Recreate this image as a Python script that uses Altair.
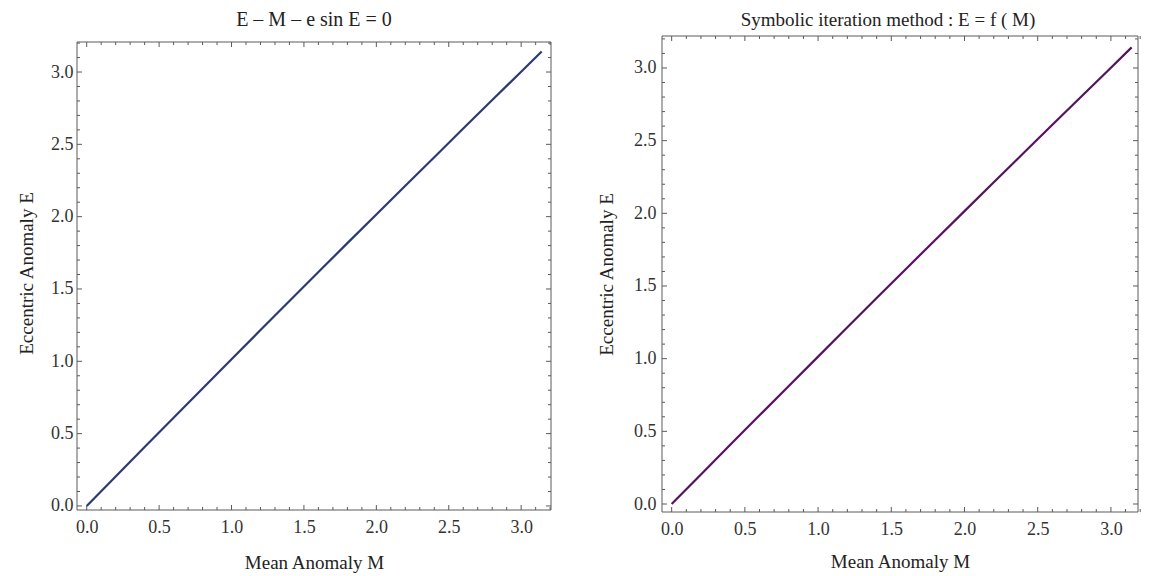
import altair as alt
import pandas as pd

# ---- data ----
M_vals = [0.0, 0.2, 0.4, 0.6, 0.8, 1.0, 1.2, 1.4, 1.6, 1.8, 2.0, 2.2, 2.4, 2.6, 2.8, 3.0, 3.1416]
E_left = [0.0, 0.203, 0.407, 0.610, 0.812, 1.014, 1.216, 1.417, 1.617, 1.817, 2.015, 2.214, 2.411, 2.609, 2.806, 3.002, 3.1416]
E_right = [0.0, 0.203, 0.407, 0.610, 0.812, 1.014, 1.216, 1.417, 1.617, 1.817, 2.015, 2.214, 2.411, 2.609, 2.806, 3.002, 3.1416]

major_ticks = [0.0, 0.5, 1.0, 1.5, 2.0, 2.5, 3.0]
minor_ticks = [0.1, 0.2, 0.3, 0.4, 0.6, 0.7, 0.8, 0.9, 1.1, 1.2, 1.3, 1.4,
               1.6, 1.7, 1.8, 1.9, 2.1, 2.2, 2.3, 2.4, 2.6, 2.7, 2.8, 2.9, 3.1, 3.2]

titles = ["E \u2013 M \u2013 e sin E = 0", "Symbolic iteration method : E = f ( M)"]
x_title = "Mean Anomaly M"
y_title = "Eccentric Anomaly E"

FONT = "Liberation Serif"
FRAME = "#5a5a5a"


def panel(E, color, title, xdom, ydom, w, h, gap, ylabpad, ytitlepad, xtitlepad, tdx, tsize):
    df = pd.DataFrame({"M": M_vals, "E": E})
    xs = alt.Scale(domain=xdom, nice=False, zero=False)
    ys = alt.Scale(domain=ydom, nice=False, zero=False)
    xax = alt.Axis(values=major_ticks, format=".1f", title=x_title,
                   labelPadding=8, titlePadding=xtitlepad)
    yax = alt.Axis(values=major_ticks, format=".1f", title=y_title,
                   labelPadding=ylabpad, titlePadding=ytitlepad)
    frame = alt.Chart(pd.DataFrame({"k": [0]})).mark_rect(
        fill=None, stroke=FRAME, strokeWidth=1
    ).encode(x=alt.value(0), x2=alt.value(w), y=alt.value(gap), y2=alt.value(h))
    line = alt.Chart(df).mark_line(color=color, strokeWidth=2.2).encode(
        x=alt.X("M:Q", scale=xs, axis=xax),
        y=alt.Y("E:Q", scale=ys, axis=yax),
    )
    layers = [line]
    for vals, L in ((major_ticks, 5), (minor_ticks, 3)):
        tdf = pd.DataFrame({"M": vals, "E": vals})
        xv = alt.X("M:Q", scale=xs, axis=xax)
        yv = alt.Y("E:Q", scale=ys, axis=yax)
        layers.append(alt.Chart(tdf).mark_rule(color=FRAME, strokeWidth=1).encode(
            x=xv, y=alt.value(h), y2=alt.value(h - L)))
        layers.append(alt.Chart(tdf).mark_rule(color=FRAME, strokeWidth=1).encode(
            x=xv, y=alt.value(gap), y2=alt.value(gap + L)))
        layers.append(alt.Chart(tdf).mark_rule(color=FRAME, strokeWidth=1).encode(
            y=yv, x=alt.value(0), x2=alt.value(L)))
        layers.append(alt.Chart(tdf).mark_rule(color=FRAME, strokeWidth=1).encode(
            y=yv, x=alt.value(w), x2=alt.value(w - L)))
    layers.append(frame)
    return alt.layer(*layers).properties(
        width=w, height=h,
        title=alt.TitleParams(title, font=FONT, fontSize=tsize, fontWeight="normal",
                              color="#222222", offset=6, dx=tdx),
    )


left = panel(E_left, "#2b3a70", titles[0], [-0.067, 3.206], [-0.028, 3.249],
             474, 474, 6, 4, 14, 17, 0, 20)
right = panel(E_right, "#55125f", titles[1], [-0.066, 3.185], [-0.055, 3.22],
              476, 476, 0, 6, 17, 14, -12, 19)

chart = alt.hconcat(left, right, spacing=45).properties(
    padding={"left": 17, "top": 10, "right": 5, "bottom": 2}
).configure(background="white").configure_view(stroke=None).configure_axis(
    domain=False, grid=False, ticks=False, tickSize=0,
    labelFont=FONT, labelFontSize=18, labelColor="#333333",
    titleFont=FONT, titleFontSize=19, titleFontWeight="normal", titleColor="#222222",
)

chart.save("out.html", embed_options={"renderer": "svg", "actions": False})
